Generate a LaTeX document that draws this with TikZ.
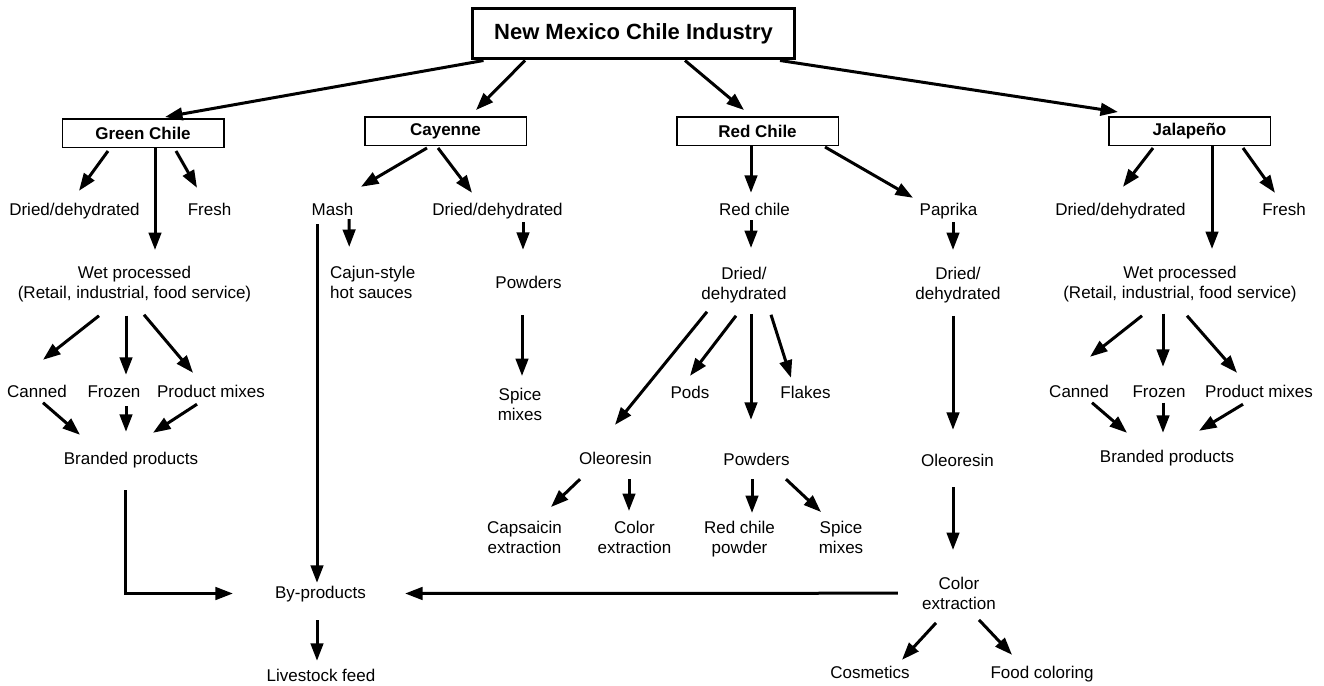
\documentclass[tikz,border=0pt]{standalone}
\usepackage{fontspec}
\setmainfont{Liberation Sans}
\usetikzlibrary{arrows.meta}

\tikzset{
  lbl/.style={inner sep=2pt, anchor=base, text height=12.5pt, text depth=3.5pt, font=\fontsize{17}{20.5}\selectfont},
  lbltwo/.style={inner sep=2pt, anchor=north, align=center, font=\fontsize{17}{20.5}\selectfont},
  kind/.style={draw, line width=1.5pt, minimum width=161.5pt, minimum height=28.5pt, inner sep=0pt, font=\fontsize{17}{20}\selectfont\bfseries},
  arr/.style={line width=3pt, -{Triangle[length=17.5pt, width=12.5pt]}},
}

\begin{document}
\begin{tikzpicture}[x=1pt, y=-1pt]
  \useasboundingbox (0,0) rectangle (1324,685);

  \node[draw, line width=3pt, minimum width=322pt, minimum height=50pt, inner sep=0pt, font=\fontsize{22}{26}\selectfont\bfseries] (nm) at (633.5,34) {New Mexico Chile Industry};

  \node[kind] (gc) at (143,133) {Green Chile};
  \node[kind] (cay) at (445.5,131) {Cayenne};
  \node[kind] (red) at (757.5,131) {Red Chile};
  \node[kind] (jal) at (1189.5,131) {Jalape\~no};

  % green chile
  \node[lbl] (gdry) at (74.5,215) {Dried/dehydrated};
  \node[lbl] (gfresh) at (209.5,215) {Fresh};
  \node[lbltwo] (gwet) at (134.5,263.5) {Wet processed\\(Retail, industrial, food service)};
  \node[lbl] (gcan) at (37,397) {Canned};
  \node[lbl] (gfro) at (114,397) {Frozen};
  \node[lbl] (gmix) at (211,397) {Product mixes};
  \node[lbl] (gbrand) at (131,464) {Branded products};

  % cayenne
  \node[lbl] (mash) at (332.5,215) {Mash};
  \node[lbl] (cdry) at (497.5,215) {Dried/dehydrated};
  \node[lbltwo, anchor=north west, align=left] (cajun) at (328,263.5) {Cajun-style\\hot sauces};
  \node[lbl] (cpow) at (528.5,288) {Powders};
  \node[lbltwo] (cspice) at (520,385.5) {Spice\\mixes};

  % red chile
  \node[lbl] (rchile) at (754.5,215) {Red chile};
  \node[lbl] (paprika) at (948.5,215) {Paprika};
  \node[lbltwo] (rdry) at (744,264.5) {Dried/\\dehydrated};
  \node[lbltwo] (pdry) at (958,264.5) {Dried/\\dehydrated};
  \node[lbl] (pods) at (690,398) {Pods};
  \node[lbl] (flakes) at (805.5,398) {Flakes};
  \node[lbl] (roleo) at (615.5,464) {Oleoresin};
  \node[lbl] (rpow) at (756.5,465) {Powders};
  \node[lbl] (poleo) at (957.5,466) {Oleoresin};
  \node[lbltwo] (caps) at (524.5,518.5) {Capsaicin\\extraction};
  \node[lbltwo] (rcolor) at (634.5,518.5) {Color\\extraction};
  \node[lbltwo] (rcpow) at (739.5,518.5) {Red chile\\powder};
  \node[lbltwo] (rspice) at (841,518.5) {Spice\\mixes};
  \node[lbltwo] (pcolor) at (959,574.5) {Color\\extraction};
  \node[lbl] (cosm) at (870,678) {Cosmetics};
  \node[lbl] (food) at (1042,678) {Food coloring};

  \node[lbl] (byprod) at (320.5,598) {By-products};
  \node[lbl] (feed) at (321,681) {Livestock feed};

  % jalapeno
  \node[lbl] (jdry) at (1120.5,215) {Dried/dehydrated};
  \node[lbl] (jfresh) at (1284,215) {Fresh};
  \node[lbltwo] (jwet) at (1180,263.5) {Wet processed\\(Retail, industrial, food service)};
  \node[lbl] (jcan) at (1079,397) {Canned};
  \node[lbl] (jfro) at (1159,397) {Frozen};
  \node[lbl] (jmix) at (1259,397) {Product mixes};
  \node[lbl] (jbrand) at (1167,462) {Branded products};

  \draw[arr] ([xshift=-150]nm.south) -- ([xshift=22,yshift=1]gc.north);
  \draw[arr] ([xshift=-108.5]nm.south) -- ([xshift=30.5,yshift=6]cay.north);
  \draw[arr] ([xshift=51.5]nm.south) -- ([xshift=-13.5,yshift=6]red.north);
  \draw[arr] ([xshift=146.5]nm.south) -- ([xshift=-71.5,yshift=4]jal.north);

  \draw[arr] ([xshift=-35,yshift=-3]gc.south) -- ([xshift=4.5,yshift=9.5]gdry.north);
  \draw[arr] ([xshift=12]gc.south) -- ([xshift=20.5,yshift=13.5]gwet.north);
  \draw[arr] ([xshift=33,yshift=-3]gc.south) -- ([xshift=-12.5,yshift=12.5]gfresh.north);
  \draw[arr] ([xshift=-35.5,yshift=-11.5]gwet.south) -- ([xshift=6,yshift=22.5]gcan.north);
  \draw[arr] ([xshift=-8.5,yshift=-11.5]gwet.south) -- ([xshift=12,yshift=7.5]gfro.north);
  \draw[arr] ([xshift=9.5,yshift=-10.5]gwet.south) -- ([xshift=-18,yshift=9.5]gmix.north);
  \draw[arr] ([xshift=6]gcan.south) -- ([xshift=-51,yshift=14.5]gbrand.north);
  \draw[arr] ([xshift=12,yshift=-3.5]gfro.south) -- ([xshift=-5,yshift=17.5]gbrand.north);
  \draw[arr] ([xshift=-14,yshift=-1.5]gmix.south) -- ([xshift=22,yshift=16.5]gbrand.north);
  \draw[arr] ([xshift=-6,yshift=-20.5]gbrand.south) |- ([xshift=-40]byprod.west);

  \draw[arr] ([xshift=-18.5,yshift=-2]cay.south) -- ([xshift=28.5,yshift=13.5]mash.north);
  \draw[arr] ([xshift=-7.5,yshift=-2]cay.south) -- ([xshift=-25.5,yshift=7.5]cdry.north);
  \draw[arr] ([xshift=16.5,yshift=1.5]mash.south) -- ([xshift=-23.5,yshift=16.5]cajun.north);
  \draw[arr] ([xshift=-15.5,yshift=-3.5]mash.south) -- ([xshift=-3.5,yshift=0.5]byprod.north);
  \draw[arr] ([xshift=25.5,yshift=-1.5]cdry.south) -- ([xshift=-5.5,yshift=23.5]cpow.north);
  \draw[arr] ([xshift=-6.5,yshift=-21.5]cpow.south) -- ([xshift=2,yshift=9.5]cspice.north);

  \draw[arr] ([xshift=-6.5]red.south) -- ([xshift=-3.5,yshift=7.5]rchile.north);
  \draw[arr] ([xshift=67.5,yshift=-1]red.south) -- ([xshift=-35.5,yshift=2.5]paprika.north);
  \draw[arr] ([xshift=-3.5,yshift=0.5]rchile.south) -- ([xshift=7,yshift=16.5]rdry.north);
  \draw[arr] ([xshift=4.5,yshift=-1.5]paprika.south) -- ([xshift=-5,yshift=14.5]pdry.north);
  \draw[arr] ([xshift=-37,yshift=-6.5]rdry.south) -- ([xshift=-0.5,yshift=24.5]roleo.north);
  \draw[arr] ([xshift=-8,yshift=-10.5]rdry.south) -- ([yshift=7.5]pods.north);
  \draw[arr] ([xshift=7,yshift=-8.5]rdry.south) -- ([xshift=-5.5,yshift=30.5]rpow.north);
  \draw[arr] ([xshift=27,yshift=-9.5]rdry.south) -- ([xshift=-14.5,yshift=5.5]flakes.north);
  \draw[arr] ([xshift=-35.5,yshift=-9.5]roleo.south) -- ([xshift=26.5,yshift=11.5]caps.north);
  \draw[arr] ([xshift=13.5,yshift=-9.5]roleo.south) -- ([xshift=-5.5,yshift=7.5]rcolor.north);
  \draw[arr] ([xshift=-4.5,yshift=-8.5]rpow.south) -- ([xshift=12.5,yshift=5.5]rcpow.north);
  \draw[arr] ([xshift=29.5,yshift=-8.5]rpow.south) -- ([xshift=-20,yshift=6.5]rspice.north);
  \draw[arr] ([xshift=-5,yshift=-10.5]pdry.south) -- ([xshift=-4.5,yshift=21.5]poleo.north);
  \draw[arr] ([xshift=-4.5,yshift=-15.5]poleo.south) -- ([xshift=-6,yshift=24.5]pcolor.north);
  \draw[arr] ([xshift=-22]pcolor.west) -- ([xshift=37]byprod.east);
  \draw[arr] ([xshift=-23,yshift=-11]pcolor.south) -- ([xshift=32,yshift=3.5]cosm.north);
  \draw[arr] ([xshift=20,yshift=-8]pcolor.south) -- ([xshift=-30,yshift=8.5]food.north);
  \draw[arr] ([xshift=-3.5,yshift=-16.5]byprod.south) -- ([xshift=-4,yshift=5.5]feed.north);

  \draw[arr] ([xshift=-36.5,yshift=-2]jal.south) -- ([xshift=2.5,yshift=13.5]jdry.north);
  \draw[arr] ([xshift=22.5]jal.south) -- ([xshift=32,yshift=14.5]jwet.north);
  \draw[arr] ([xshift=53.5,yshift=-2]jal.south) -- ([xshift=-9,yshift=7.5]jfresh.north);
  \draw[arr] ([xshift=-38,yshift=-11.5]jwet.south) -- ([xshift=11,yshift=25.5]jcan.north);
  \draw[arr] ([xshift=-17,yshift=-9.5]jwet.south) -- ([xshift=4,yshift=15.5]jfro.north);
  \draw[arr] ([xshift=7,yshift=-11.5]jwet.south) -- ([xshift=-22,yshift=9.5]jmix.north);
  \draw[arr] ([xshift=13]jcan.south) -- ([xshift=-40,yshift=14.5]jbrand.north);
  \draw[arr] ([xshift=4]jfro.south) -- ([xshift=-4,yshift=14.5]jbrand.north);
  \draw[arr] ([xshift=-16,yshift=-1.5]jmix.south) -- ([xshift=32,yshift=16.5]jbrand.north);
\end{tikzpicture}
\end{document}
